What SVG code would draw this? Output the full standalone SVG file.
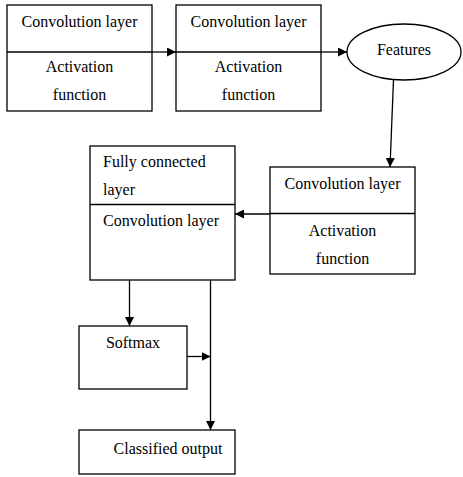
<svg xmlns="http://www.w3.org/2000/svg" width="463" height="477" viewBox="0 0 463 477">
<style>
.b{fill:#fff;stroke:#000;stroke-width:1.3}
.l{fill:none;stroke:#000;stroke-width:1.3}
.c{text-anchor:middle}
</style>
<defs>
<marker id="a" viewBox="0 0 10 10" refX="10" refY="5" markerWidth="9" markerHeight="9" markerUnits="userSpaceOnUse" orient="auto">
<path d="M0,0L10,5L0,10z" fill="#000"/>
</marker>
</defs>
<rect width="463" height="477" fill="#fff"/>
<g id="conv1">
<rect class="b" x="7" y="5" width="145" height="106"/>
<line class="l" x1="7" y1="52" x2="152" y2="52"/>
<text class="c" font-family="Liberation Serif" font-size="16" x="79.5" y="27">Convolution layer</text>
<text class="c" font-family="Liberation Serif" font-size="16" x="79.5" y="72">Activation</text>
<text class="c" font-family="Liberation Serif" font-size="16" x="79.5" y="100">function</text>
</g>
<g id="conv2">
<rect class="b" x="176" y="5" width="145" height="106"/>
<line class="l" x1="176" y1="52" x2="321" y2="52"/>
<text class="c" font-family="Liberation Serif" font-size="16" x="248.5" y="27">Convolution layer</text>
<text class="c" font-family="Liberation Serif" font-size="16" x="248.5" y="72">Activation</text>
<text class="c" font-family="Liberation Serif" font-size="16" x="248.5" y="100">function</text>
</g>
<g id="features">
<ellipse class="b" cx="404" cy="52" rx="57" ry="28"/>
<text class="c" font-family="Liberation Serif" font-size="16" x="404" y="55">Features</text>
</g>
<g id="conv3">
<rect class="b" x="270" y="167" width="145" height="107"/>
<line class="l" x1="270" y1="213.5" x2="415" y2="213.5"/>
<text class="c" font-family="Liberation Serif" font-size="16" x="342.5" y="189">Convolution layer</text>
<text class="c" font-family="Liberation Serif" font-size="16" x="342.5" y="236">Activation</text>
<text class="c" font-family="Liberation Serif" font-size="16" x="342.5" y="264">function</text>
</g>
<g id="fc">
<rect class="b" x="90" y="146" width="145" height="134"/>
<line class="l" x1="90" y1="204.5" x2="235" y2="204.5"/>
<text font-family="Liberation Serif" font-size="16" x="103" y="167">Fully connected</text>
<text font-family="Liberation Serif" font-size="16" x="103" y="195">layer</text>
<text font-family="Liberation Serif" font-size="16" x="103" y="226">Convolution layer</text>
</g>
<g id="softmax">
<rect class="b" x="79" y="326" width="108" height="63"/>
<text class="c" font-family="Liberation Serif" font-size="16" x="133" y="348">Softmax</text>
</g>
<g id="output">
<rect class="b" x="79" y="430" width="156" height="44"/>
<text class="c" font-family="Liberation Serif" font-size="16" x="168" y="454">Classified output</text>
</g>
<g id="connectors">
<line class="l" x1="152" y1="52" x2="176" y2="52" marker-end="url(#a)"/>
<line class="l" x1="321" y1="52" x2="347" y2="52" marker-end="url(#a)"/>
<line class="l" x1="393.5" y1="80" x2="390" y2="167" marker-end="url(#a)"/>
<line class="l" x1="270" y1="214" x2="235" y2="214" marker-end="url(#a)"/>
<line class="l" x1="129.5" y1="280" x2="129.5" y2="326" marker-end="url(#a)"/>
<line class="l" x1="210.5" y1="280" x2="210.5" y2="430" marker-end="url(#a)"/>
<line class="l" x1="187" y1="356.5" x2="210.5" y2="356.5" marker-end="url(#a)"/>
</g>
</svg>
